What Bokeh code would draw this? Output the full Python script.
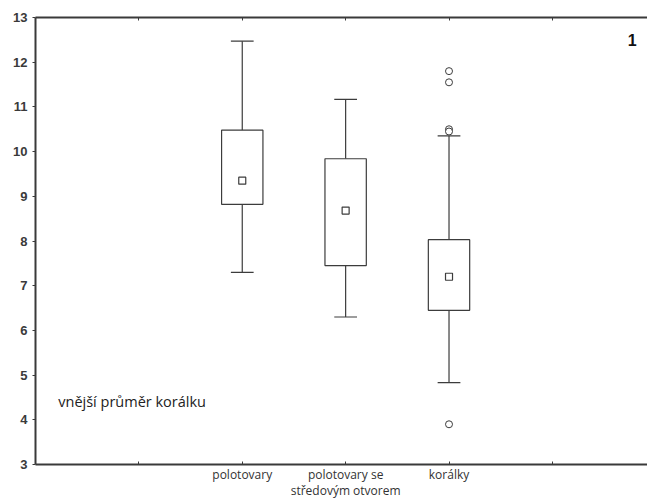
from bokeh.plotting import figure
from bokeh.models import FixedTicker, LinearAxis, Label, ColumnDataSource, Range1d
from bokeh.embed import file_html
from bokeh.resources import INLINE

categories = ["polotovary", "polotovary se\nstředovým otvorem", "korálky"]
whisker_low = [7.30, 6.30, 4.83]
q1 = [8.82, 7.45, 6.45]
mean = [9.35, 8.68, 7.20]
q3 = [10.48, 9.84, 8.03]
whisker_high = [12.47, 11.17, 10.35]
outlier_cat = [2, 2, 2, 2, 2]
outlier_val = [11.80, 11.55, 10.50, 10.45, 3.90]
y_ticks = [3, 4, 5, 6, 7, 8, 9, 10, 11, 12, 13]
x_ticks = [1, 2, 3, 4, 5]

xs = [i + 2 for i in range(len(categories))]
cap_half = 0.11

p = figure(width=647, height=501, output_backend="svg", toolbar_location=None,
           x_range=Range1d(0, 5.92), y_range=Range1d(3, 13),
           min_border_left=35, min_border_right=0, min_border_top=17, min_border_bottom=35)
p.outline_line_color = None
p.xgrid.visible = False
p.ygrid.visible = False
p.background_fill_color = "white"
p.border_fill_color = "white"

axcol = "#3a3a3a"
for ax in [p.xaxis[0], p.yaxis[0]]:
    ax.axis_line_color = axcol
    ax.axis_line_width = 2
    ax.major_tick_line_color = axcol
    ax.minor_tick_line_color = None
    ax.major_tick_out = 3
    ax.major_tick_in = 0

p.yaxis[0].ticker = FixedTicker(ticks=y_ticks)
p.yaxis[0].major_label_text_font = "Liberation Sans"
p.yaxis[0].major_label_text_font_size = "13px"
p.yaxis[0].major_label_text_font_style = "bold"
p.yaxis[0].major_label_text_color = "#3a3a3a"
p.yaxis[0].major_label_standoff = 5

p.xaxis[0].ticker = FixedTicker(ticks=x_ticks)
overrides = {t: "" for t in x_ticks}
for x, c in zip(xs, categories):
    overrides[x] = c
p.xaxis[0].major_label_overrides = overrides
p.xaxis[0].major_label_text_font = "Open Sans"
p.xaxis[0].major_label_text_font_size = "12px"
p.xaxis[0].major_label_text_line_height = 0.95
p.xaxis[0].major_label_text_color = "#333333"
p.xaxis[0].major_label_standoff = 1
p.xaxis[0].major_tick_out = 0
p.xaxis[0].major_tick_in = 3

top = LinearAxis(ticker=FixedTicker(ticks=x_ticks))
top.major_label_text_font_size = "0px"
top.major_label_overrides = {t: "" for t in x_ticks}
top.axis_line_color = axcol
top.axis_line_width = 2
top.major_tick_line_color = axcol
top.minor_tick_line_color = None
top.major_tick_in = 3
top.major_tick_out = 0
p.add_layout(top, "above")

lc = "#3c3c3c"
src = ColumnDataSource(dict(x=xs, lo=whisker_low, q1=q1, q3=q3, hi=whisker_high, m=mean,
                            cl=[x - cap_half for x in xs], cr=[x + cap_half for x in xs]))
p.segment(x0="x", y0="hi", x1="x", y1="q3", source=src, line_color=lc, line_width=1.2)
p.segment(x0="x", y0="lo", x1="x", y1="q1", source=src, line_color=lc, line_width=1.2)
p.segment(x0="cl", y0="hi", x1="cr", y1="hi", source=src, line_color=lc, line_width=1.2)
p.segment(x0="cl", y0="lo", x1="cr", y1="lo", source=src, line_color=lc, line_width=1.2)
p.vbar(x="x", width=0.4, top="q3", bottom="q1", source=src, fill_color="white",
       line_color=lc, line_width=1.2)
p.scatter(x="x", y="m", source=src, marker="square", size=7, fill_color="white",
          line_color=lc, line_width=1.2)

osrc = ColumnDataSource(dict(x=[xs[i] for i in outlier_cat], y=outlier_val))
p.scatter(x="x", y="y", source=osrc, marker="circle", size=7, fill_color="white",
          line_color=lc, line_width=1)

p.add_layout(Label(x=0.22, y=4.42, text="vnější průměr korálku", text_font="Open Sans",
                   text_font_size="14.5px", text_color="#222222", text_baseline="middle"))
p.add_layout(Label(x=5.73, y=12.5, text="1",
                   text_font="Liberation Sans", text_font_style="bold",
                   text_font_size="16px", text_color="#111111", text_baseline="middle"))

open("out.html", "w").write(file_html(p, INLINE))
